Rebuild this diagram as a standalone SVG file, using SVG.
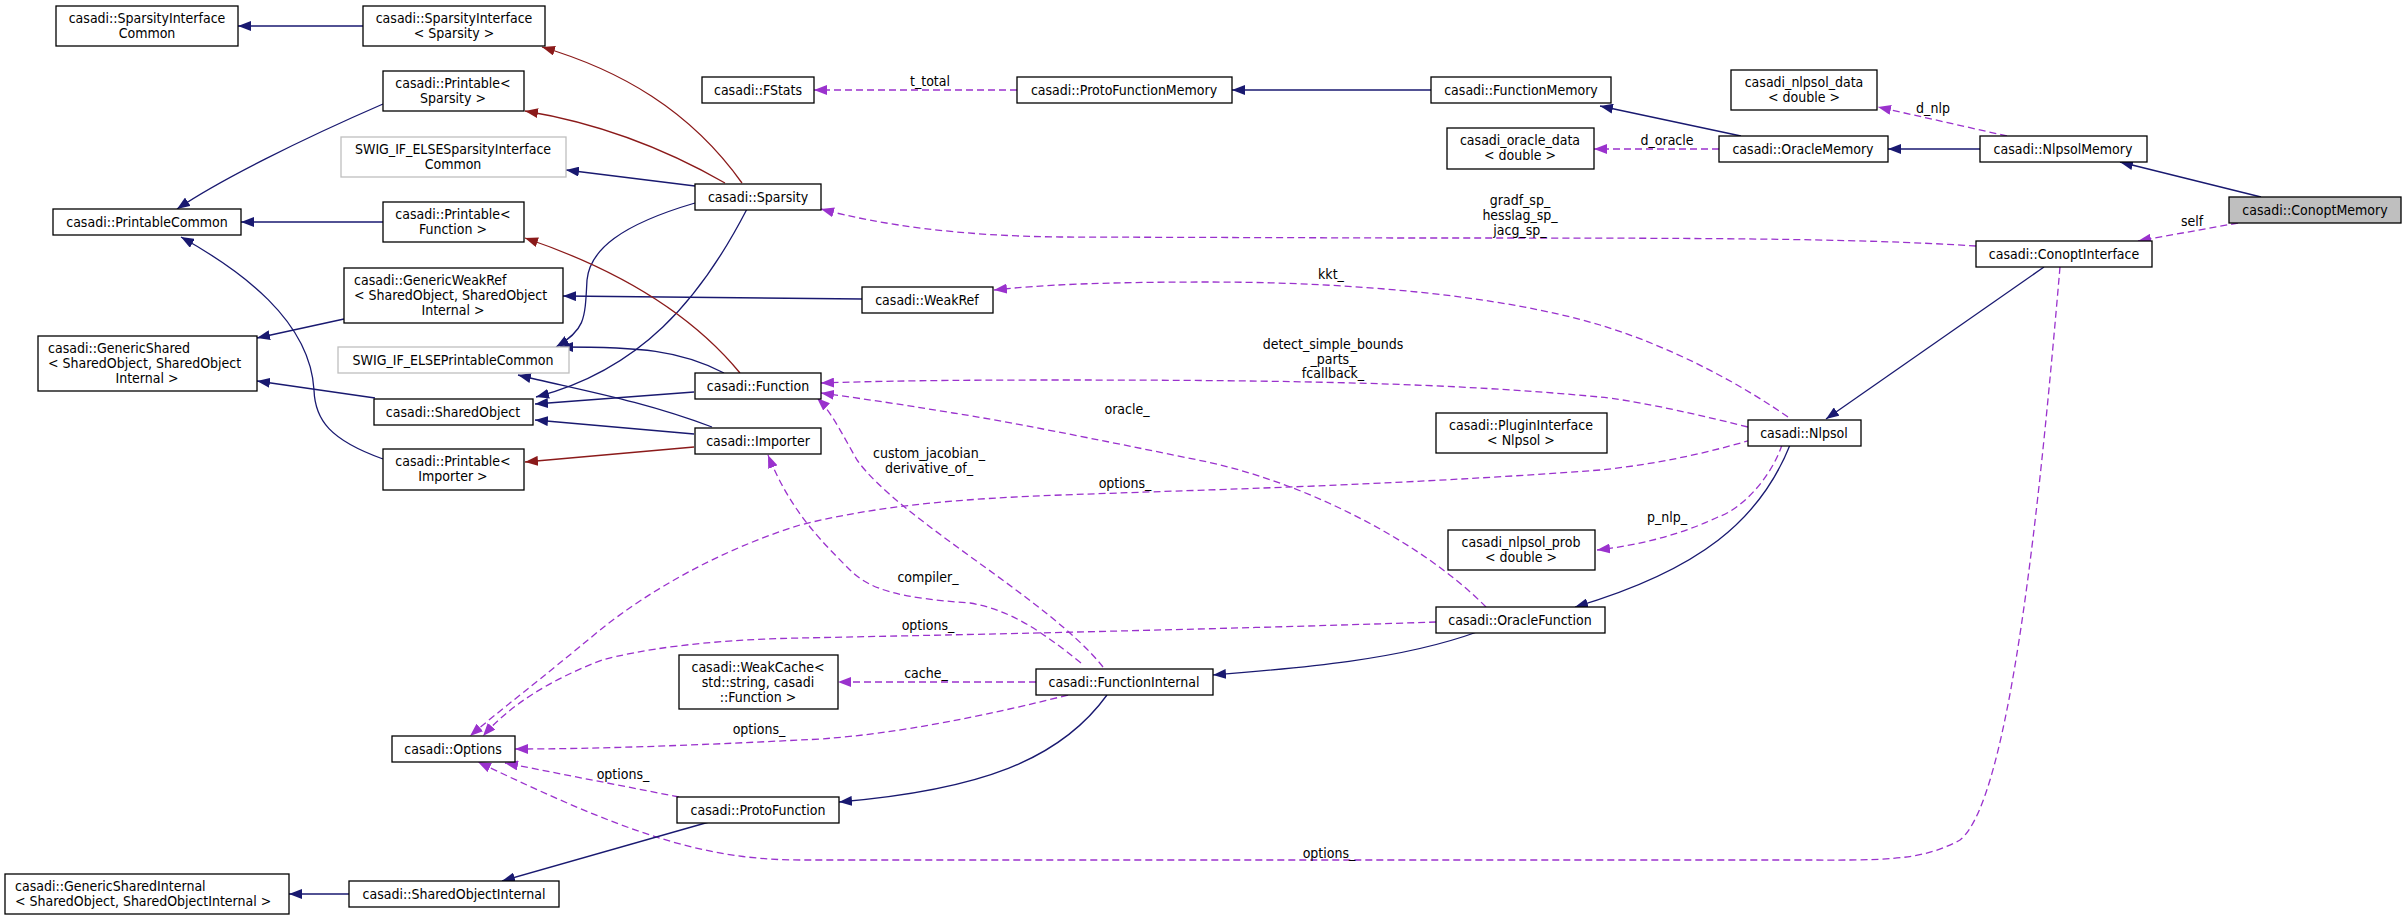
<svg xmlns="http://www.w3.org/2000/svg" width="2407" height="920" viewBox="0 0 2407 920">
<style>
text{font-family:"DejaVu Sans Condensed","DejaVu Sans",sans-serif;font-size:14px;fill:#000}
.n rect{fill:#fff;stroke:#000;stroke-width:1.3}
.g rect{fill:#fff;stroke:#bfbfbf;stroke-width:1.3}
.c{text-anchor:middle}
.e path{fill:none;stroke-width:1.3}
.inh{stroke:#191970;marker-end:url(#mb)}
.tpl{stroke:#8b1a1a;marker-end:url(#mr)}
.use{stroke:#9a32cd;stroke-dasharray:7,4;marker-end:url(#mp)}
.lbl{text-anchor:middle}
</style>
<defs>
<marker id="mb" markerUnits="userSpaceOnUse" markerWidth="14" markerHeight="10" refX="13" refY="5" orient="auto"><path d="M0,0 L13,5 L0,10 z" fill="#191970"/></marker>
<marker id="mr" markerUnits="userSpaceOnUse" markerWidth="14" markerHeight="10" refX="13" refY="5" orient="auto"><path d="M0,0 L13,5 L0,10 z" fill="#8b1a1a"/></marker>
<marker id="mp" markerUnits="userSpaceOnUse" markerWidth="14" markerHeight="10" refX="13" refY="5" orient="auto"><path d="M0,0 L13,5 L0,10 z" fill="#9a32cd"/></marker>
</defs>
<rect width="2407" height="920" fill="#fff"/>
<g class="e" id="edges">
<path class="inh" d="M363,26 L238,26"/>
<path class="inh" d="M383,104 C300,140 220,180 177,209"/>
<path class="inh" d="M383,222 L241,222"/>
<path class="inh" d="M383,459 C330,440 315,420 314,390 C310,320 240,270 181,237"/>
<path class="inh" d="M344,319 L257,338"/>
<path class="inh" d="M375,398 L257,381"/>
<path class="inh" d="M695,186 L566,170"/>
<path class="inh" d="M695,203 C620,225 590,250 587,280 C585,320 585,330 556,347"/>
<path class="inh" d="M747,209 C700,300 640,370 536,397"/>
<path class="inh" d="M724,373 C680,350 640,347 560,347"/>
<path class="inh" d="M694,392 L535,404"/>
<path class="inh" d="M712,427 C640,400 580,390 518,375"/>
<path class="inh" d="M694,434 L535,420"/>
<path class="inh" d="M862,299 L563,296"/>
<path class="tpl" d="M725,183 C650,140 580,120 525,111"/>
<path class="tpl" d="M742,183 C690,110 620,70 542,47"/>
<path class="tpl" d="M740,373 C680,300 590,260 525,238"/>
<path class="tpl" d="M694,447 L525,462"/>
<path class="use" d="M1017,90 L814,90"/>
<path class="inh" d="M1431,90 L1232,90"/>
<path class="inh" d="M1741,136 L1600,106"/>
<path class="use" d="M1719,149 L1594,149"/>
<path class="inh" d="M1980,149 L1888,149"/>
<path class="use" d="M2007,136 L1878,107"/>
<path class="inh" d="M2261,197 L2120,162"/>
<path class="use" d="M2238,223 L2138,241"/>
<path class="use" d="M1976,246 C1850,238 1700,238 1400,238 L1060,237 C960,236 880,225 821,209"/>
<path class="inh" d="M2044,267 L1826,419"/>
<path class="use" d="M2060,267 C2040,500 2010,800 1960,840 C1920,862 1880,860 1800,860 L800,860 C700,860 620,830 478,762"/>
<path class="use" d="M1788,417 C1720,370 1650,340 1600,325 C1500,295 1350,282 1208,282 C1100,282 1040,285 994,290"/>
<path class="use" d="M1748,427 C1680,410 1630,400 1600,397 C1450,383 1300,380 1055,380 C950,380 880,381 821,383"/>
<path class="use" d="M1486,607 C1420,540 1300,480 1198,460 C1100,440 1000,420 953,413 C900,404 850,397 821,393"/>
<path class="use" d="M1103,667 C1050,600 900,520 857,460 C840,430 830,410 817,398"/>
<path class="use" d="M1081,663 C1040,630 1010,610 970,603 C900,598 870,590 850,570 C820,540 790,510 768,455"/>
<path class="use" d="M1751,440 C1700,455 1650,465 1600,470 C1400,485 1200,490 1119,493 C1000,497 900,500 800,525 C720,550 650,590 600,630 C540,680 500,710 470,736"/>
<path class="use" d="M1782,445 C1770,480 1740,510 1718,517 C1680,535 1640,545 1597,550"/>
<path class="inh" d="M1790,445 C1760,520 1700,570 1575,607"/>
<path class="use" d="M1436,622 C1200,630 900,636 800,638 C700,640 640,650 602,660 C550,680 510,705 483,736"/>
<path class="use" d="M1036,682 L838,682"/>
<path class="use" d="M1068,695 C950,725 860,738 800,740 C700,745 600,749 515,749"/>
<path class="inh" d="M1477,632 C1400,660 1300,668 1213,675"/>
<path class="inh" d="M1107,695 C1060,760 980,790 839,802"/>
<path class="use" d="M679,797 L505,763"/>
<path class="inh" d="M709,822 L502,881"/>
<path class="inh" d="M349,894 L289,894"/>
</g>
<g id="labels">
<text class="lbl" x="930" y="86">t_total</text>
<text class="lbl" x="1667" y="145">d_oracle</text>
<text class="lbl" x="1933" y="113">d_nlp</text>
<text class="lbl" x="2192" y="226">self</text>
<text class="lbl" x="1520" y="205">gradf_sp_</text>
<text class="lbl" x="1520" y="220">hesslag_sp_</text>
<text class="lbl" x="1520" y="235">jacg_sp_</text>
<text class="lbl" x="1331" y="279">kkt_</text>
<text class="lbl" x="1333" y="349">detect_simple_bounds</text>
<text class="lbl" x="1333" y="364">_parts_</text>
<text class="lbl" x="1333" y="378">fcallback_</text>
<text class="lbl" x="1127" y="414">oracle_</text>
<text class="lbl" x="929" y="458">custom_jacobian_</text>
<text class="lbl" x="929" y="473">derivative_of_</text>
<text class="lbl" x="1125" y="488">options_</text>
<text class="lbl" x="1667" y="522">p_nlp_</text>
<text class="lbl" x="928" y="582">compiler_</text>
<text class="lbl" x="928" y="630">options_</text>
<text class="lbl" x="926" y="678">cache_</text>
<text class="lbl" x="759" y="734">options_</text>
<text class="lbl" x="623" y="779">options_</text>
<text class="lbl" x="1329" y="858">options_</text>
</g>
<g id="SparsityInterfaceCommon" class="n"><rect x="56" y="6" width="182" height="40"/><text class="c" x="147" y="23">casadi::SparsityInterface</text><text class="c" x="147" y="38">Common</text></g>
<g id="SparsityInterfaceSparsity" class="n"><rect x="363" y="6" width="182" height="40"/><text class="c" x="454" y="23">casadi::SparsityInterface</text><text class="c" x="454" y="38">&lt; Sparsity &gt;</text></g>
<g id="PrintableSparsity" class="n"><rect x="383" y="71" width="141" height="40"/><text class="c" x="453" y="88">casadi::Printable&lt;</text><text class="c" x="453" y="103">Sparsity &gt;</text></g>
<g id="SWIGSparsity" class="g"><rect x="341" y="137" width="225" height="40"/><text class="c" x="453" y="154">SWIG_IF_ELSESparsityInterface</text><text class="c" x="453" y="169">Common</text></g>
<g id="PrintableCommon" class="n"><rect x="53" y="209" width="188" height="26"/><text class="c" x="147" y="227">casadi::PrintableCommon</text></g>
<g id="PrintableFunction" class="n"><rect x="383" y="202" width="141" height="40"/><text class="c" x="453" y="219">casadi::Printable&lt;</text><text class="c" x="453" y="234">Function &gt;</text></g>
<g id="GenericWeakRef" class="n"><rect x="344" y="268" width="219" height="55"/><text x="354" y="285">casadi::GenericWeakRef</text><text x="354" y="300">&lt; SharedObject, SharedObject</text><text class="c" x="453" y="315">Internal &gt;</text></g>
<g id="GenericShared" class="n"><rect x="38" y="336" width="219" height="55"/><text x="48" y="353">casadi::GenericShared</text><text x="48" y="368">&lt; SharedObject, SharedObject</text><text class="c" x="147" y="383">Internal &gt;</text></g>
<g id="SWIGPrintable" class="g"><rect x="338" y="347" width="231" height="26"/><text class="c" x="453" y="365">SWIG_IF_ELSEPrintableCommon</text></g>
<g id="SharedObject" class="n"><rect x="374" y="399" width="159" height="26"/><text class="c" x="453" y="417">casadi::SharedObject</text></g>
<g id="PrintableImporter" class="n"><rect x="383" y="449" width="141" height="41"/><text class="c" x="453" y="466">casadi::Printable&lt;</text><text class="c" x="453" y="481">Importer &gt;</text></g>
<g id="Sparsity" class="n"><rect x="695" y="184" width="126" height="26"/><text class="c" x="758" y="202">casadi::Sparsity</text></g>
<g id="Function" class="n"><rect x="695" y="373" width="126" height="26"/><text class="c" x="758" y="391">casadi::Function</text></g>
<g id="Importer" class="n"><rect x="695" y="428" width="126" height="26"/><text class="c" x="758" y="446">casadi::Importer</text></g>
<g id="FStats" class="n"><rect x="702" y="77" width="112" height="26"/><text class="c" x="758" y="95">casadi::FStats</text></g>
<g id="ProtoFunctionMemory" class="n"><rect x="1017" y="77" width="215" height="26"/><text class="c" x="1124" y="95">casadi::ProtoFunctionMemory</text></g>
<g id="FunctionMemory" class="n"><rect x="1431" y="77" width="180" height="26"/><text class="c" x="1521" y="95">casadi::FunctionMemory</text></g>
<g id="oracle_data" class="n"><rect x="1447" y="128" width="147" height="41"/><text class="c" x="1520" y="145">casadi_oracle_data</text><text class="c" x="1520" y="160">&lt; double &gt;</text></g>
<g id="nlpsol_data" class="n"><rect x="1731" y="70" width="146" height="40"/><text class="c" x="1804" y="87">casadi_nlpsol_data</text><text class="c" x="1804" y="102">&lt; double &gt;</text></g>
<g id="OracleMemory" class="n"><rect x="1719" y="136" width="169" height="26"/><text class="c" x="1803" y="154">casadi::OracleMemory</text></g>
<g id="NlpsolMemory" class="n"><rect x="1980" y="136" width="167" height="26"/><text class="c" x="2063" y="154">casadi::NlpsolMemory</text></g>
<g id="ConoptMemory"><rect x="2229" y="197" width="172" height="26" fill="#bfbfbf" stroke="#000" stroke-width="1.3"/><text class="c" x="2315" y="215">casadi::ConoptMemory</text></g>
<g id="ConoptInterface" class="n"><rect x="1976" y="241" width="176" height="26"/><text class="c" x="2064" y="259">casadi::ConoptInterface</text></g>
<g id="WeakRef" class="n"><rect x="862" y="287" width="131" height="26"/><text class="c" x="927" y="305">casadi::WeakRef</text></g>
<g id="PluginInterface" class="n"><rect x="1436" y="413" width="171" height="40"/><text class="c" x="1521" y="430">casadi::PluginInterface</text><text class="c" x="1521" y="445">&lt; Nlpsol &gt;</text></g>
<g id="Nlpsol" class="n"><rect x="1748" y="420" width="113" height="26"/><text class="c" x="1804" y="438">casadi::Nlpsol</text></g>
<g id="nlpsol_prob" class="n"><rect x="1448" y="530" width="147" height="40"/><text class="c" x="1521" y="547">casadi_nlpsol_prob</text><text class="c" x="1521" y="562">&lt; double &gt;</text></g>
<g id="OracleFunction" class="n"><rect x="1436" y="607" width="169" height="26"/><text class="c" x="1520" y="625">casadi::OracleFunction</text></g>
<g id="WeakCache" class="n"><rect x="679" y="655" width="159" height="54"/><text class="c" x="758" y="672">casadi::WeakCache&lt;</text><text class="c" x="758" y="687">std::string, casadi</text><text class="c" x="758" y="702">::Function &gt;</text></g>
<g id="FunctionInternal" class="n"><rect x="1036" y="669" width="177" height="26"/><text class="c" x="1124" y="687">casadi::FunctionInternal</text></g>
<g id="Options" class="n"><rect x="392" y="736" width="123" height="26"/><text class="c" x="453" y="754">casadi::Options</text></g>
<g id="ProtoFunction" class="n"><rect x="677" y="797" width="162" height="26"/><text class="c" x="758" y="815">casadi::ProtoFunction</text></g>
<g id="SharedObjectInternal" class="n"><rect x="349" y="881" width="210" height="26"/><text class="c" x="454" y="899">casadi::SharedObjectInternal</text></g>
<g id="GenericSharedInternal" class="n"><rect x="5" y="874" width="284" height="40"/><text x="15" y="891">casadi::GenericSharedInternal</text><text x="15" y="906">&lt; SharedObject, SharedObjectInternal &gt;</text></g>
</svg>
